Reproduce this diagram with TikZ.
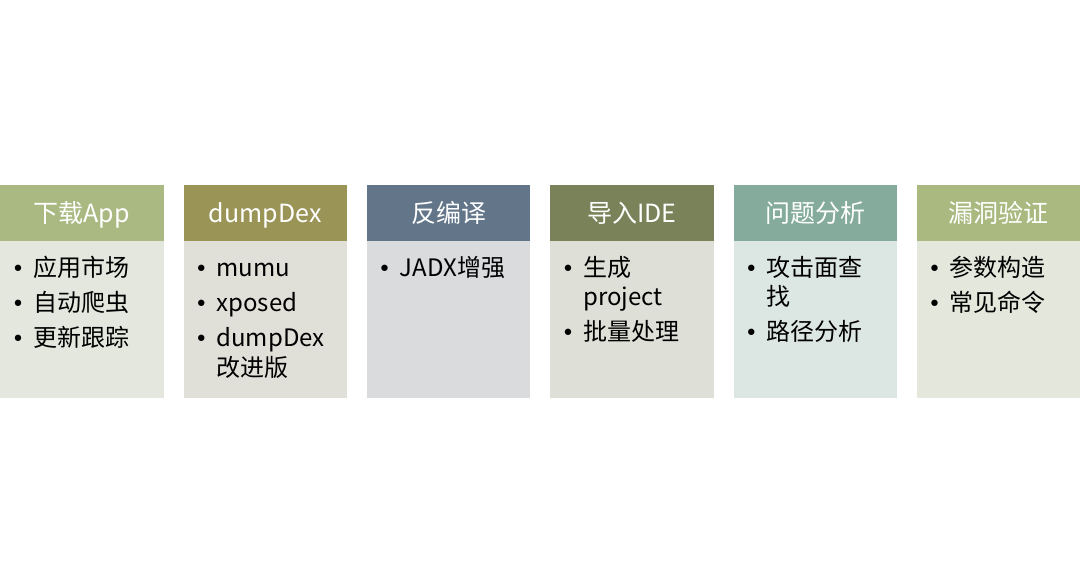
\documentclass[tikz,border=0pt]{standalone}
\usepackage{fontspec}
\setmainfont{Noto Sans CJK SC}
\newfontfamily\bulfont{DejaVu Sans}
\begin{document}
\begin{tikzpicture}[x=1pt,y=-1pt,
  hdr/.style={rectangle,anchor=north west,inner sep=0pt,minimum width=163.3pt,minimum height=55.5pt,
    text=white,font=\fontsize{25}{29}\selectfont,text height=18.5pt,text depth=0pt},
  bodybox/.style={rectangle,anchor=north west,inner sep=0pt,minimum width=163.3pt,minimum height=157.5pt},
  itm/.style={anchor=base west,inner sep=0pt,font=\fontsize{24}{28}\selectfont,text=black},
  bul/.style={anchor=base,inner sep=0pt,font=\bulfont\fontsize{22}{26}\selectfont,text=black}]
\definecolor{h1}{HTML}{A9B981}
\definecolor{h2}{HTML}{9A9457}
\definecolor{h3}{HTML}{627589}
\definecolor{h4}{HTML}{7A8259}
\definecolor{h5}{HTML}{84AB9C}
\definecolor{h6}{HTML}{A9B97F}
\definecolor{c1}{HTML}{E3E7DD}
\definecolor{c2}{HTML}{E0DFD8}
\definecolor{c3}{HTML}{D9DBDD}
\definecolor{c4}{HTML}{DEDFD7}
\definecolor{c5}{HTML}{DCE6E2}
\definecolor{c6}{HTML}{E3E7DC}
\fill[white] (0,0) rectangle (1080,585);
\useasboundingbox (0,0) rectangle (1080,585);
% column 1
\node[bodybox,fill=c1] (B1) at (0,240.5) {};
\node[hdr,fill=h1] (H1) at (0,185) {下载App};
\node[bul] (p11) at (18,277) {•};
\node[itm] (t11) at (33,277) {应用市场};
\node[bul] (p12) at (18,312) {•};
\node[itm] (t12) at (33,312) {自动爬虫};
\node[bul] (p13) at (18,347) {•};
\node[itm] (t13) at (33,347) {更新跟踪};
% column 2
\node[bodybox,fill=c2] (B2) at (183.3,240.5) {};
\node[hdr,fill=h2] (H2) at (183.3,185) {dumpDex};
\node[bul] (p21) at (201.3,277) {•};
\node[itm] (t21) at (216.3,277) {mumu};
\node[bul] (p22) at (201.3,312) {•};
\node[itm] (t22) at (216.3,312) {xposed};
\node[bul] (p23) at (201.3,347) {•};
\node[itm] (t23) at (216.3,347) {dumpDex};
\node[itm] (t23b) at (216.3,377) {改进版};
% column 3
\node[bodybox,fill=c3] (B3) at (366.7,240.5) {};
\node[hdr,fill=h3] (H3) at (366.7,185) {反编译};
\node[bul] (p31) at (384.7,277) {•};
\node[itm] (t31) at (399.7,277) {JADX增强};
% column 4
\node[bodybox,fill=c4] (B4) at (550,240.5) {};
\node[hdr,fill=h4] (H4) at (550,185) {导入IDE};
\node[bul] (p41) at (568,277) {•};
\node[itm] (t41) at (583,277) {生成};
\node[itm] (t41b) at (583,306) {project};
\node[bul] (p42) at (568,341) {•};
\node[itm] (t42) at (583,341) {批量处理};
% column 5
\node[bodybox,fill=c5] (B5) at (733.3,240.5) {};
\node[hdr,fill=h5] (H5) at (733.3,185) {问题分析};
\node[bul] (p51) at (751.3,277) {•};
\node[itm] (t51) at (766.3,277) {攻击面查};
\node[itm] (t51b) at (766.3,306) {找};
\node[bul] (p52) at (751.3,341) {•};
\node[itm] (t52) at (766.3,341) {路径分析};
% column 6
\node[bodybox,fill=c6] (B6) at (916.7,240.5) {};
\node[hdr,fill=h6] (H6) at (916.7,185) {漏洞验证};
\node[bul] (p61) at (934.7,277) {•};
\node[itm] (t61) at (949.7,277) {参数构造};
\node[bul] (p62) at (934.7,312) {•};
\node[itm] (t62) at (949.7,312) {常见命令};
\end{tikzpicture}
\end{document}
